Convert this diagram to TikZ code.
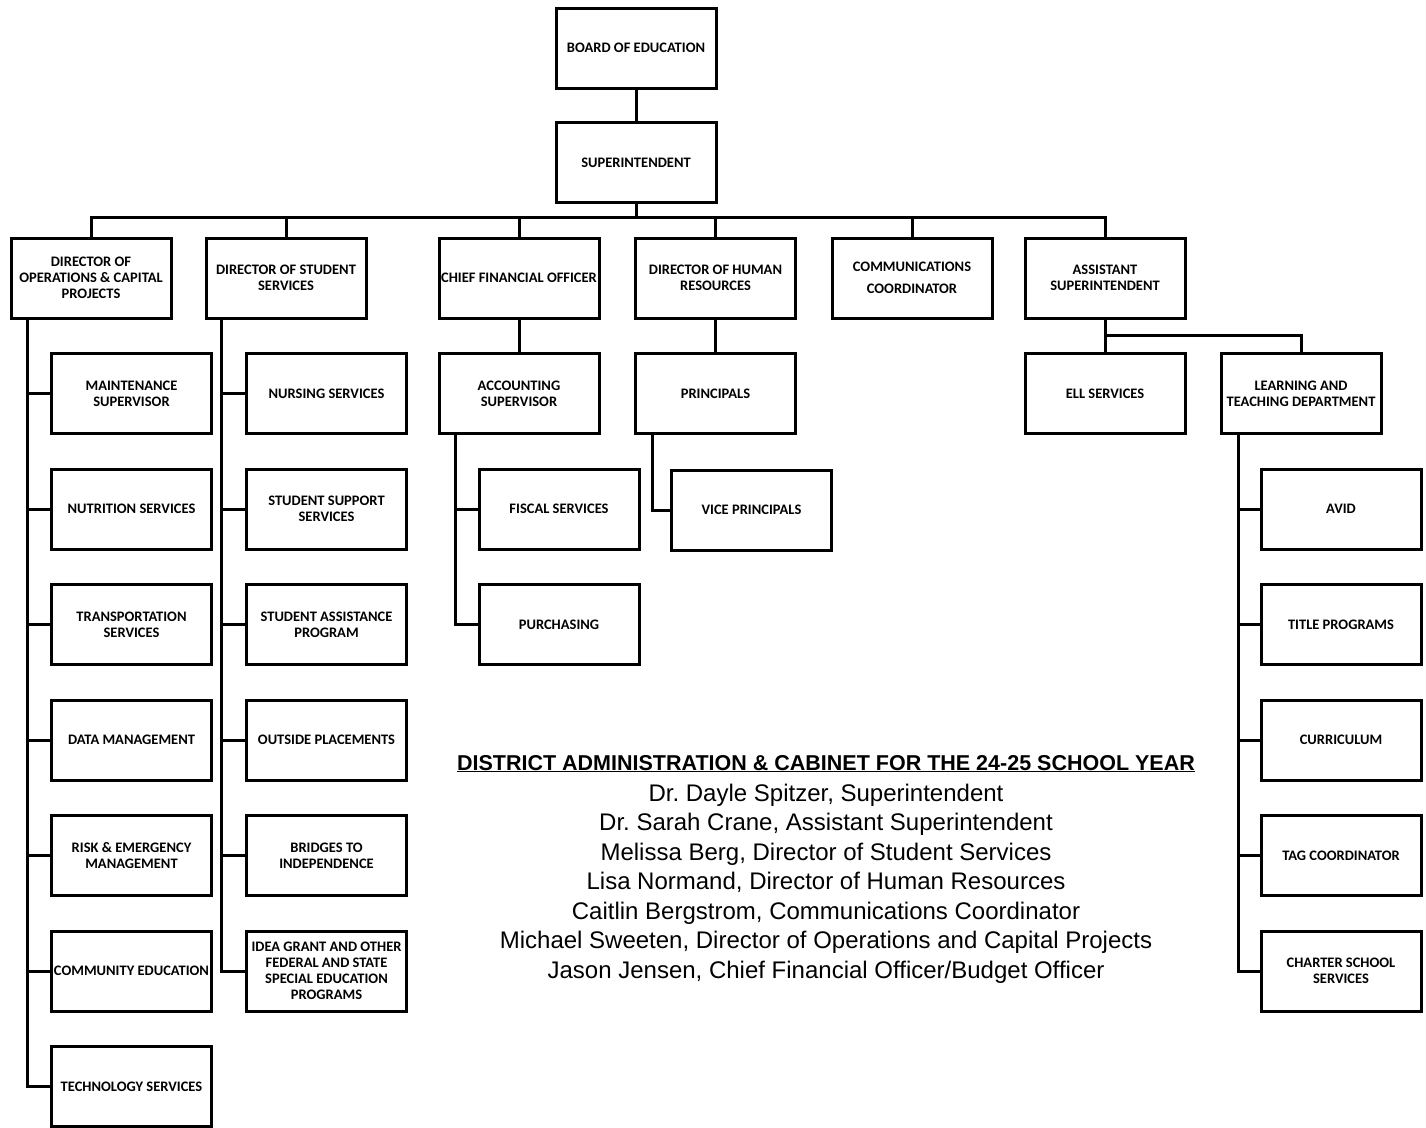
\documentclass[tikz,border=0pt]{standalone}
\usepackage{fontspec}
\usetikzlibrary{positioning}
\newfontfamily\boxfont{Carlito}
\newfontfamily\listfont{Liberation Sans}
\newcommand{\ink}{black}
\frenchspacing

\tikzset{
  unit/.style={draw=\ink, line width=3pt, minimum width=160pt, minimum height=80pt,
    inner sep=1pt, align=center, font=\boxfont\bfseries\fontsize{14.5}{16}\selectfont},
  link/.style={draw=\ink, line width=3pt},
}

\begin{document}
\begin{tikzpicture}[x=1pt, y=-1pt, node distance=32.5pt]
        \useasboundingbox (0,0) rectangle (1426,1127);
        % board and superintendent
        \node[unit] (board) at (636,48) {BOARD OF EDUCATION};
        \node[unit] (super) at (636,162.5) {SUPERINTENDENT};
        \coordinate (bus) at (636,217);
        % directors
        \node[unit] (ops)  at (91,278)    {DIRECTOR OF\\OPERATIONS \& CAPITAL\\PROJECTS};
        \node[unit] (stu)  at (286,278)   {DIRECTOR OF STUDENT\\SERVICES};
        \node[unit] (cfo)  at (519,278)   {CHIEF FINANCIAL OFFICER};
        \node[unit] (hr)   at (715.5,278) {DIRECTOR OF HUMAN\\RESOURCES};
        \node[unit] (comm) at (912,278)   {COMMUNICATIONS\\[6pt]COORDINATOR};
        \node[unit] (asst) at (1105,278)  {ASSISTANT\\SUPERINTENDENT};
        % operations
        \node[unit] (ops1) at (131.5,393.5) {MAINTENANCE\\SUPERVISOR};
        \node[unit, below=of ops1] (ops2) {NUTRITION SERVICES};
        \node[unit, below=of ops2] (ops3) {TRANSPORTATION\\SERVICES};
        \node[unit, below=of ops3] (ops4) {DATA MANAGEMENT};
        \node[unit, below=of ops4] (ops5) {RISK \& EMERGENCY\\MANAGEMENT};
        \node[unit, below=of ops5] (ops6) {COMMUNITY EDUCATION};
        \node[unit, below=of ops6] (ops7) {TECHNOLOGY SERVICES};
        % student services
        \node[unit] (stu1) at (326.5,393.5) {NURSING SERVICES};
        \node[unit, below=of stu1] (stu2) {STUDENT SUPPORT\\SERVICES};
        \node[unit, below=of stu2] (stu3) {STUDENT ASSISTANCE\\PROGRAM};
        \node[unit, below=of stu3] (stu4) {OUTSIDE PLACEMENTS};
        \node[unit, below=of stu4] (stu5) {BRIDGES TO\\INDEPENDENCE};
        \node[unit, below=of stu5] (stu6) {IDEA GRANT AND OTHER\\FEDERAL AND STATE\\SPECIAL EDUCATION\\PROGRAMS};
        % finance
        \node[unit] (acct) at (519,393.5) {ACCOUNTING\\SUPERVISOR};
        \node[unit] (fisc) at (559,509) {FISCAL SERVICES};
        \node[unit, below=of fisc] (purch) {PURCHASING};
        % human resources
        \node[unit] (prin) at (715.5,393.5) {PRINCIPALS};
        \node[unit] (vice) at (751.5,510) {VICE PRINCIPALS};
        % assistant superintendent
        \node[unit] (ell) at (1105,393.5) {ELL SERVICES};
        \node[unit] (lt)  at (1301,393.5) {LEARNING AND\\TEACHING DEPARTMENT};
        \node[unit] (lt1) at (1341,509) {AVID};
        \node[unit, below=of lt1] (lt2) {TITLE PROGRAMS};
        \node[unit, below=of lt2] (lt3) {CURRICULUM};
        \node[unit, below=of lt3] (lt4) {TAG COORDINATOR};
        \node[unit, below=of lt4] (lt5) {CHARTER SCHOOL\\SERVICES};

        % connectors
        \draw[link] (board) -- (super);
        \draw[link] (super) -- (bus);
        \draw[link] (ops.north) -- (ops.north |- bus) -- (asst.north |- bus) -- (asst.north);
        \foreach \d in {stu,cfo,hr,comm}
            \draw[link] (\d.north) -- (\d.north |- bus);
        \draw[link] (cfo) -- (acct);
        \draw[link] (hr) -- (prin);
        \draw[link] (asst) -- (ell);
        \draw[link] (asst.south) |- ++(0,16) -| (lt.north);
        % rails
        \coordinate (opsrail)  at ([xshift=18pt]ops.south west);
        \coordinate (sturail)  at ([xshift=17pt]stu.south west);
        \coordinate (acctrail) at ([xshift=18pt]acct.south west);
        \coordinate (prinrail) at ([xshift=18pt]prin.south west);
        \coordinate (ltrail)   at ([xshift=19pt]lt.south west);
        \draw[link] (opsrail) |- (ops7.west);
        \foreach \i in {1,...,6}
            \draw[link] (opsrail |- ops\i.west) -- (ops\i.west);
        \draw[link] (sturail) |- (stu6.west);
        \foreach \i in {1,...,5}
            \draw[link] (sturail |- stu\i.west) -- (stu\i.west);
        \draw[link] (acctrail) |- (purch.west);
        \draw[link] (acctrail |- fisc.west) -- (fisc.west);
        \draw[link] (prinrail) |- (vice.west);
        \draw[link] (ltrail) |- (lt5.west);
        \foreach \i in {1,...,4}
            \draw[link] (ltrail |- lt\i.west) -- (lt\i.west);

        % cabinet list
        \node[anchor=base, font=\listfont\bfseries\fontsize{21.5}{24}\selectfont] (title) at (826,770)
            {\underline{DISTRICT ADMINISTRATION \& CABINET FOR THE 24-25 SCHOOL YEAR}};
        \node[anchor=base, align=center, font=\listfont\fontsize{24}{29.5}\selectfont] (cabinet) at (826,978)
            {Dr. Dayle Spitzer, Superintendent\\
             Dr. Sarah Crane, Assistant Superintendent\\
             Melissa Berg, Director of Student Services\\
             Lisa Normand, Director of Human Resources\\
             Caitlin Bergstrom, Communications Coordinator\\
             Michael Sweeten, Director of Operations and Capital Projects\\
             Jason Jensen, Chief Financial Officer/Budget Officer};
\end{tikzpicture}
\end{document}
